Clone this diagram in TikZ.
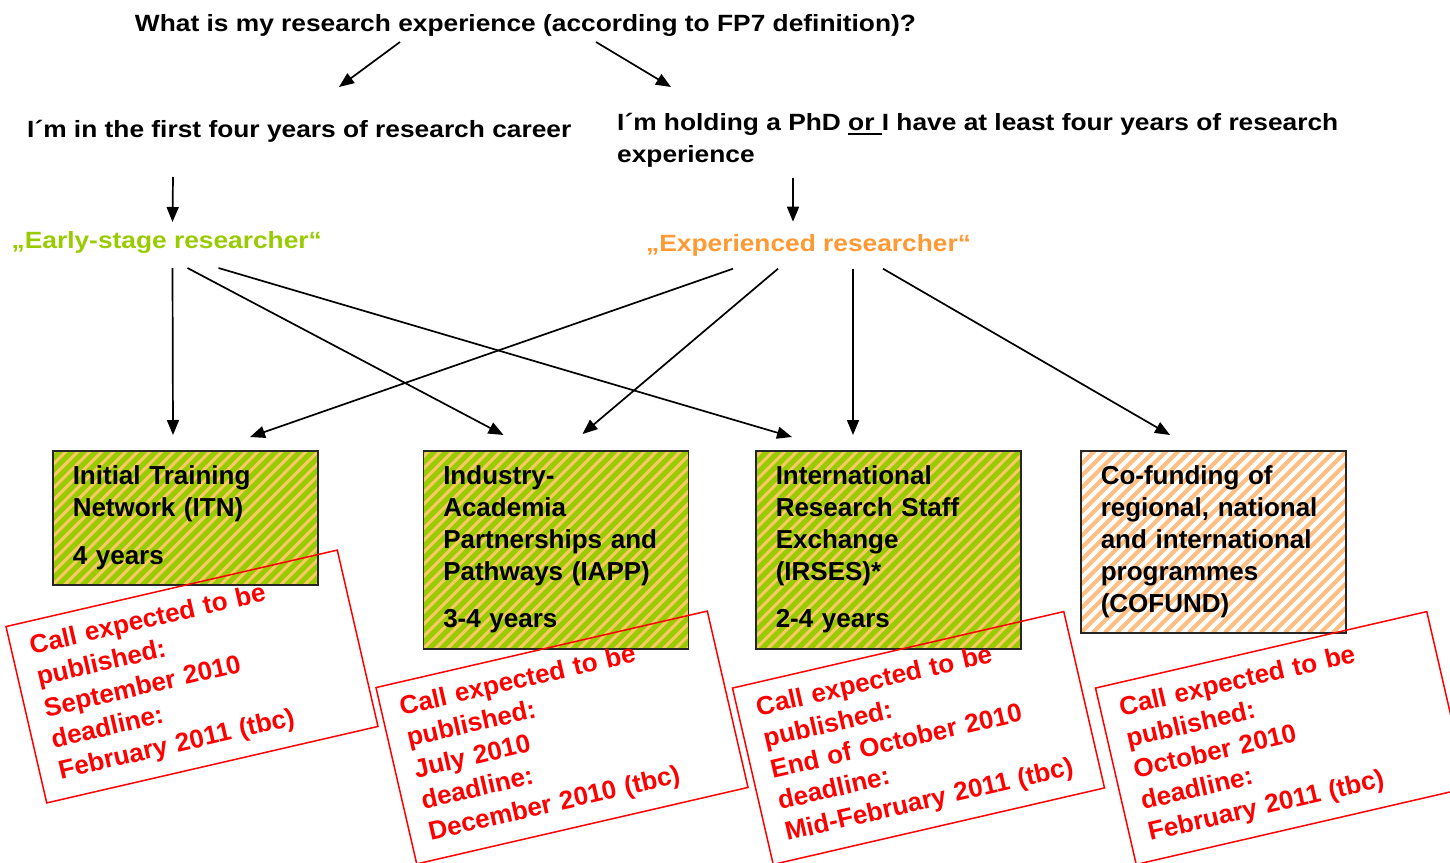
\documentclass[tikz,border=0pt]{standalone}
\usepackage{fontspec}
\setmainfont{Liberation Sans}
\newfontfamily\widesans[FakeStretch=1.12]{Liberation Sans}
\usetikzlibrary{arrows.meta}

\definecolor{esrgreen}{RGB}{153,204,0}
\definecolor{esrstripe}{RGB}{250,200,100}
\definecolor{erorange}{RGB}{255,153,51}
\definecolor{cofstripe}{RGB}{255,190,130}

\newcommand{\orline}[1]{\setbox0=\hbox{#1}\rlap{\rule[-4.3pt]{\wd0}{1.6pt}}\box0}

\begin{document}
\begin{tikzpicture}[x=1pt, y=-1pt,
	toptext/.style={inner sep=0, font=\widesans\bfseries\fontsize{23.5}{32}\selectfont},
	progbox/.style={draw=black!85, line width=1.5pt, anchor=north west, text width=225pt, inner xsep=20pt, inner ysep=0, align=left, font=\bfseries\fontsize{26}{32}\selectfont},
	callbox/.style={draw=red, text=red, line width=1.5pt, rotate=13, text width=302pt, inner xsep=19pt, minimum height=181pt, align=left, font=\bfseries\fontsize{26}{32}\selectfont},
	greenhatch/.style={fill=esrgreen, path picture={
		\foreach \k in {-20,...,24}
			\draw[esrstripe, line width=3pt] ([xshift=\k*12pt]path picture bounding box.south west) -- ++(300,-300);}},
	cofhatch/.style={fill=white, path picture={
		\foreach \k in {-20,...,24}
			\draw[cofstripe, line width=4pt] ([xshift=\k*12pt]path picture bounding box.south west) -- ++(300,-300);}},
	arr/.style={line width=1.7pt, -{Triangle[length=15pt,width=12pt]}}]
	\useasboundingbox (0,0) rectangle (1450,862);

	% questions and the two kinds of researcher
	\node[toptext, anchor=base] (title) at (525.5,31.5) {What is my research experience (according to FP7 definition)?};
	\node[toptext, anchor=base west] (first) at (27,137) {I´m in the first four years of research career};
	\node[toptext, anchor=north west, align=left] (holding) at (617,113) {I´m holding a PhD \orline{or }I have at least four years of research\\experience};
	\node[toptext, text=esrgreen, anchor=base west] (early) at (11.5,248) {„Early-stage researcher“};
	\node[toptext, text=erorange, anchor=base west] (expd) at (646,251.7) {„Experienced researcher“};

	% the four actions
	\node[progbox, greenhatch, minimum height=134pt] (itn) at (52,450) {Initial Training\\Network (ITN)\\[16pt]4 years};
	\node[progbox, greenhatch, minimum height=198pt] (iapp) at (422.5,450) {Industry-\\Academia\\Partnerships and\\Pathways (IAPP)\\[15pt]3-4 years};
	\node[progbox, greenhatch, minimum height=198pt] (irses) at (755,450) {International\\Research Staff\\Exchange\\(IRSES)*\\[15pt]2-4 years};
	\node[progbox, cofhatch, minimum height=182pt] (cofund) at (1080,450) {Co-funding of\\regional, national\\and international\\programmes\\(COFUND)};

	% calls
	\node[callbox] (itncall) at (192,676.5) {Call expected to be\\published:\\September 2010\\deadline:\\February 2011 (tbc)};
	\node[callbox] (iappcall) at (562,737.5) {Call expected to be\\published:\\July 2010\\deadline:\\December 2010 (tbc)};
	\node[callbox] (irsescall) at (918.5,738) {Call expected to be\\published:\\End of October 2010\\deadline:\\Mid-February 2011 (tbc)};
	\node[callbox] (cofundcall) at (1281.5,738) {Call expected to be\\published:\\October 2010\\deadline:\\February 2011 (tbc)};

	% arrows
	\draw[arr] ([xshift=-125.5pt,yshift=-10.5pt]title.base) -- ([xshift=312pt,yshift=50pt]first.base west);
	\draw[arr] ([xshift=70.5pt,yshift=-10.5pt]title.base) -- ([xshift=54pt,yshift=26pt]holding.north west);
	\draw[arr] ([xshift=146pt,yshift=-40pt]first.base west) -- ([xshift=161pt,yshift=26pt]early.base west);
	\draw[arr] ([xshift=176pt,yshift=-10pt]holding.south west) -- ([xshift=147pt,yshift=30pt]expd.base west);
	\draw[arr] ([xshift=161pt,yshift=-20pt]early.base west) -- ([xshift=121pt,yshift=15pt]itn.north west);
	\draw[arr] ([xshift=176pt,yshift=-20pt]early.base west) -- ([xshift=81pt,yshift=15pt]iapp.north west);
	\draw[arr] ([xshift=207pt,yshift=-20pt]early.base west) -- ([xshift=37pt,yshift=13pt]irses.north west);
	\draw[arr] ([xshift=87pt,yshift=-17pt]expd.base west) -- ([xshift=198pt,yshift=13pt]itn.north west);
	\draw[arr] ([xshift=132pt,yshift=-17pt]expd.base west) -- ([xshift=160pt,yshift=16pt]iapp.north west);
	\draw[arr] ([xshift=207pt,yshift=-17pt]expd.base west) -- ([xshift=98pt,yshift=15pt]irses.north west);
	\draw[arr] ([xshift=237pt,yshift=-17pt]expd.base west) -- ([xshift=90pt,yshift=15pt]cofund.north west);
\end{tikzpicture}
\end{document}
